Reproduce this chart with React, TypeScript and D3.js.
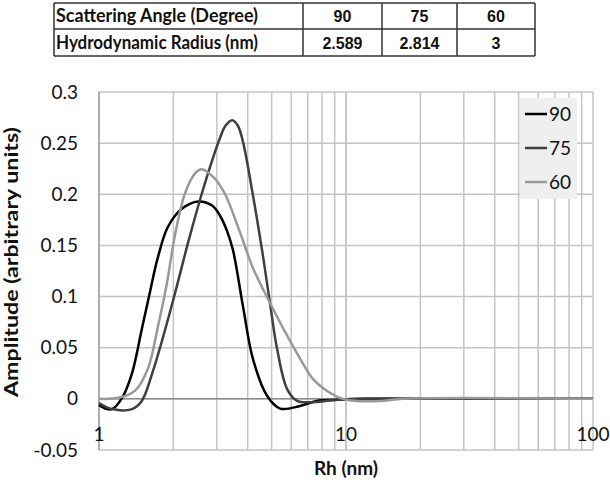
import React from "react";
import * as d3 from "d3";

// table on top
const tableHeader = ["Scattering Angle (Degree)", "90", "75", "60"];
const tableRow = ["Hydrodynamic Radius (nm)", "2.589", "2.814", "3"];

// series: Rh (nm) and amplitude
const rh90 = [1, 1.05, 1.13, 1.24, 1.36, 1.49, 1.61, 1.73, 1.9, 2.17, 2.52, 2.87, 3.09, 3.3, 3.49, 3.83, 4.2, 4.79, 5.41, 6.51, 7.6, 9, 12, 100];
const amp90 = [-0.006, -0.009, -0.01, 0.001, 0.025, 0.068, 0.105, 0.138, 0.168, 0.186, 0.193, 0.189, 0.179, 0.164, 0.145, 0.09, 0.039, 0.003, -0.0095, -0.007, -0.002, -0.001, 0, 0];

const rh75 = [1, 1.13, 1.36, 1.49, 1.64, 1.8, 2.03, 2.29, 2.61, 2.87, 3.1, 3.25, 3.46, 3.65, 3.83, 4.2, 4.61, 4.92, 5.26, 5.77, 6.34, 7.5, 9, 12, 100];
const amp75 = [-0.004, -0.01, -0.01, -0.002, 0.0245, 0.057, 0.103, 0.152, 0.201, 0.233, 0.256, 0.267, 0.2725, 0.267, 0.251, 0.199, 0.14, 0.094, 0.049, 0.0098, -0.002, -0.003, -0.001, 0, 0];

const rh60 = [1, 1.2, 1.4, 1.58, 1.73, 1.88, 2.03, 2.23, 2.45, 2.61, 2.95, 3.24, 3.72, 4.2, 4.92, 5.77, 6.95, 7.37, 8.35, 9.72, 11, 14, 17, 100];
const amp60 = [0, 0.001, 0.008, 0.03, 0.07, 0.112, 0.16, 0.201, 0.2205, 0.2245, 0.215, 0.2, 0.163, 0.128, 0.094, 0.062, 0.028, 0.019, 0.008, 0, -0.002, -0.002, 0, 0];

const seriesNames = ["90", "75", "60"];
const seriesColors = ["#000000", "#3f3f3f", "#999999"];

const yTicks = [-0.05, 0, 0.05, 0.1, 0.15, 0.2, 0.25, 0.3];
const xLabels = [1, 10, 100];

const font = "Lato, 'Open Sans', sans-serif";

const App = () => {
  const left = 99;
  const right = 593;
  const top = 92;
  const bottom = 450;

  const x = d3.scaleLog().domain([1, 100]).range([left, right]);
  const y = d3.scaleLinear().domain([-0.05, 0.3]).range([bottom, top]);

  const minorX: number[] = [];
  for (const dec of [1, 10]) {
    for (let k = 1; k <= 10; k++) minorX.push(dec * k);
  }

  const line = d3
    .line<[number, number]>()
    .x((d) => x(d[0]))
    .y((d) => y(d[1]))
    .curve(d3.curveCatmullRom.alpha(0.5));

  const series = [
    { rh: rh90, amp: amp90 },
    { rh: rh75, amp: amp75 },
    { rh: rh60, amp: amp60 },
  ];

  // table geometry
  const colEdges = [54, 303, 382, 457, 535];
  const rowEdges = [3, 29, 56];

  return (
    <svg
      width={610}
      height={483}
      style={{ position: "absolute", left: 0, top: 0, background: "#fff" }}
    >
      {/* table */}
      <g stroke="#333" strokeWidth={1.5}>
        {rowEdges.map((r, i) => (
          <line key={"r" + i} x1={colEdges[0]} x2={colEdges[4]} y1={r} y2={r} />
        ))}
        {colEdges.map((c, i) => (
          <line key={"c" + i} x1={c} x2={c} y1={rowEdges[0]} y2={rowEdges[2]} />
        ))}
      </g>
      {[tableHeader, tableRow].map((row, ri) => (
        <g key={"tr" + ri}>
          {row.map((cell, ci) =>
            ci === 0 ? (
              <text
                key={ci}
                x={56}
                y={(rowEdges[ri] + rowEdges[ri + 1]) / 2 + 6}
                fontFamily={font}
                fontWeight="bold"
                fontSize={18}
                textLength={202}
                lengthAdjust="spacingAndGlyphs"
                fill="#111"
              >
                {cell}
              </text>
            ) : (
              <text
                key={ci}
                x={(colEdges[ci] + colEdges[ci + 1]) / 2}
                y={(rowEdges[ri] + rowEdges[ri + 1]) / 2 + 6}
                textAnchor="middle"
                fontFamily="'Liberation Sans', Arial, sans-serif"
                fontWeight="bold"
                fontSize={16}
                fill="#111"
              >
                {cell}
              </text>
            )
          )}
        </g>
      ))}

      {/* grid */}
      <g stroke="#c4c4c4" strokeWidth={1.5}>
        {minorX.map((v, i) => (
          <line key={"gx" + i} x1={x(v)} x2={x(v)} y1={top} y2={bottom} />
        ))}
        {yTicks.map((v, i) => (
          <line key={"gy" + i} x1={left} x2={right} y1={y(v)} y2={y(v)} />
        ))}
      </g>
      <line x1={left} x2={right} y1={y(0)} y2={y(0)} stroke="#8c8c8c" strokeWidth={1.5} />
      <line x1={left} x2={left} y1={top} y2={bottom} stroke="#a0a0a0" strokeWidth={1.5} />

      {/* y tick labels */}
      {yTicks.map((v, i) => (
        <text
          key={"yt" + i}
          x={78}
          y={y(v) + 6.5}
          textAnchor="end"
          fontFamily={font}
          fontSize={19}
          fill="#111"
        >
          {String(v)}
        </text>
      ))}

      {/* x tick labels */}
      {xLabels.map((v, i) => (
        <text
          key={"xt" + i}
          x={x(v)}
          y={441}
          textAnchor="middle"
          fontFamily={font}
          fontSize={19}
          fill="#111"
        >
          {String(v)}
        </text>
      ))}

      {/* curves */}
      {series.map((s, i) => (
        <path
          key={"s" + i}
          d={line(s.rh.map((r, j) => [r, s.amp[j]] as [number, number])) || ""}
          fill="none"
          stroke={seriesColors[i]}
          strokeWidth={2.5}
        />
      ))}

      {/* legend */}
      <rect x={520} y={98} width={57} height={101} fill="#efefef" />
      {seriesNames.map((n, i) => (
        <g key={"lg" + i}>
          <line
            x1={525}
            x2={547}
            y1={114 + i * 34}
            y2={114 + i * 34}
            stroke={seriesColors[i]}
            strokeWidth={2.5}
          />
          <text x={549} y={114 + i * 34 + 6.5} fontFamily={font} fontSize={19} fill="#111">
            {n}
          </text>
        </g>
      ))}

      {/* axis titles */}
      <text
        x={346}
        y={475}
        textAnchor="middle"
        fontFamily={font}
        fontWeight="bold"
        fontSize={19}
        fill="#111"
      >
        Rh (nm)
      </text>
      <text
        transform="translate(18,262) rotate(-90)"
        textAnchor="middle"
        fontFamily={font}
        fontWeight="bold"
        fontSize={19}
        textLength={270}
        lengthAdjust="spacingAndGlyphs"
        fill="#111"
      >
        Amplitude (arbitrary units)
      </text>
    </svg>
  );
};

export default App;
